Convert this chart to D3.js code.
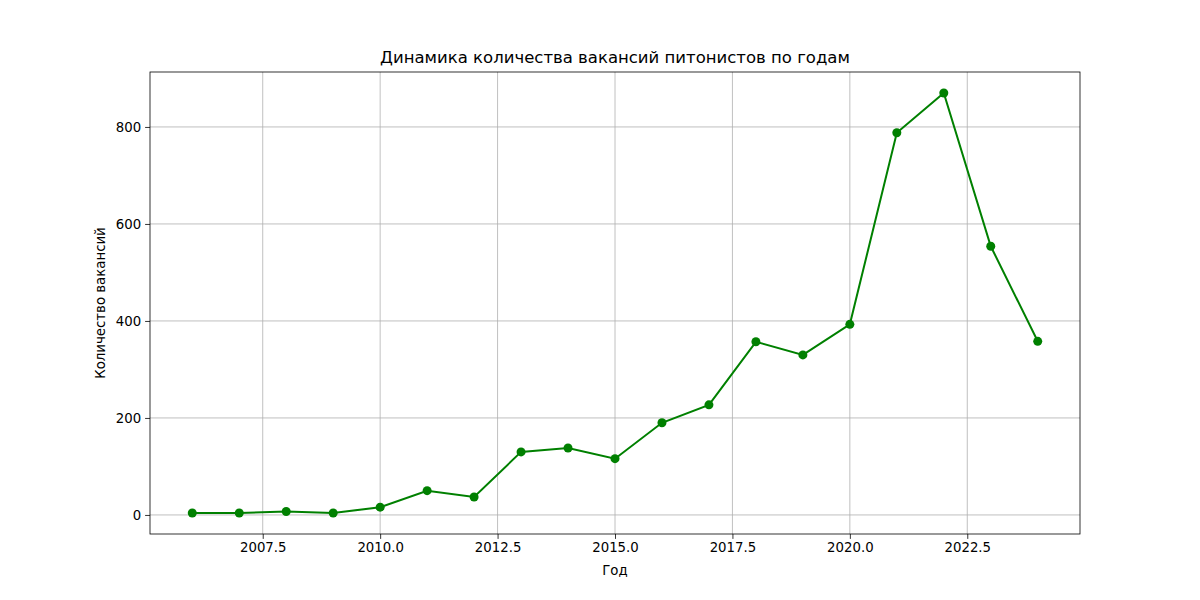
<!DOCTYPE html>
<head>
<meta charset="utf-8">
<title>Вакансии питонистов</title>
<script src="https://d3js.org/d3.v7.min.js"></script>
<style>
  body { margin: 0; background: #fff; }
  text { font-family: "DejaVu Sans", sans-serif; fill: #000; }
</style>
</head>
<body>
<div id="chart"></div>
<script>
// data
var years = [2006, 2007, 2008, 2009, 2010, 2011, 2012, 2013, 2014, 2015,
             2016, 2017, 2018, 2019, 2020, 2021, 2022, 2023, 2024];
var counts = [4, 4, 7, 4, 16, 50, 37, 130, 138, 116,
              190, 227, 357, 330, 393, 788, 870, 554, 358];
var xTicks = [2007.5, 2010.0, 2012.5, 2015.0, 2017.5, 2020.0, 2022.5];
var yTicks = [0, 200, 400, 600, 800];

var W = 1200, H = 600;
var m = {left: 150, right: 120, top: 72, bottom: 66};

var svg = d3.select('#chart').append('svg')
  .attr('width', W).attr('height', H);

// matplotlib-style 5% margins
var xPad = (d3.max(years) - d3.min(years)) * 0.05;
var yPad = (d3.max(counts) - d3.min(counts)) * 0.05;

var x = d3.scaleLinear()
  .domain([d3.min(years) - xPad, d3.max(years) + xPad])
  .range([m.left, W - m.right]);
var y = d3.scaleLinear()
  .domain([d3.min(counts) - yPad, d3.max(counts) + yPad])
  .range([H - m.bottom, m.top]);

// grid
svg.append('g').selectAll('line').data(xTicks).enter().append('line')
  .attr('x1', d => x(d)).attr('x2', d => x(d))
  .attr('y1', m.top).attr('y2', H - m.bottom)
  .attr('stroke', '#b0b0b0').attr('stroke-width', 0.8);
svg.append('g').selectAll('line').data(yTicks).enter().append('line')
  .attr('y1', d => y(d)).attr('y2', d => y(d))
  .attr('x1', m.left).attr('x2', W - m.right)
  .attr('stroke', '#b0b0b0').attr('stroke-width', 0.8);

// axes
var xAxis = svg.append('g')
  .attr('transform', 'translate(0,' + (H - m.bottom) + ')')
  .call(d3.axisBottom(x).tickValues(xTicks).tickFormat(d3.format('.1f')).tickSizeOuter(0).tickSize(4.9).tickPadding(4));
var yAxis = svg.append('g')
  .attr('transform', 'translate(' + m.left + ',0)')
  .call(d3.axisLeft(y).tickValues(yTicks).tickFormat(d3.format('d')).tickSizeOuter(0).tickSize(4.9).tickPadding(4));
[xAxis, yAxis].forEach(function (g) {
  g.select('.domain').remove();
  g.selectAll('text').style('font-size', '13.3px').style('font-family', '"DejaVu Sans", sans-serif');
  g.selectAll('line').attr('stroke', '#000').attr('stroke-width', 0.8);
});

// frame
svg.append('rect')
  .attr('x', m.left).attr('y', m.top)
  .attr('width', W - m.left - m.right).attr('height', H - m.top - m.bottom)
  .attr('fill', 'none').attr('stroke', '#000').attr('stroke-width', 0.8);

// line + markers
var line = d3.line().x((d, i) => x(years[i])).y(d => y(d));
svg.append('path').datum(counts)
  .attr('d', line).attr('fill', 'none')
  .attr('stroke', 'green').attr('stroke-width', 2);
svg.append('g').selectAll('circle').data(counts).enter().append('circle')
  .attr('cx', (d, i) => x(years[i])).attr('cy', d => y(d))
  .attr('r', 4.5).attr('fill', 'green');

// labels
svg.append('text')
  .attr('x', (m.left + W - m.right) / 2).attr('y', 63)
  .attr('text-anchor', 'middle').style('font-size', '16.5px')
  .text('Динамика количества вакансий питонистов по годам');
svg.append('text')
  .attr('x', (m.left + W - m.right) / 2).attr('y', 575)
  .attr('text-anchor', 'middle').style('font-size', '13.3px')
  .text('Год');
svg.append('text')
  .attr('transform', 'translate(105,' + ((m.top + H - m.bottom) / 2) + ') rotate(-90)')
  .attr('text-anchor', 'middle').style('font-size', '13.3px')
  .text('Количество вакансий');
</script>
</body>
</html>
